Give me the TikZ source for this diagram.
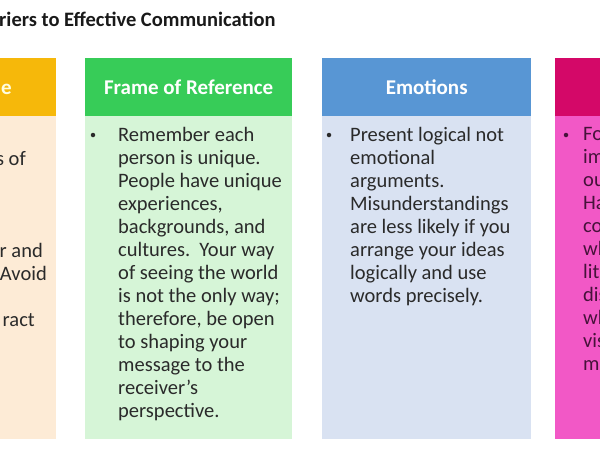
\documentclass[tikz,border=0pt]{standalone}
\usepackage{fontspec}
\setmainfont{Carlito}
\usetikzlibrary{positioning}

\definecolor{goldhead}{RGB}{246,184,10}
\definecolor{goldbody}{RGB}{253,235,214}
\definecolor{greenhead}{RGB}{55,204,88}
\definecolor{greenbody}{RGB}{214,245,215}
\definecolor{bluehead}{RGB}{88,150,212}
\definecolor{bluebody}{RGB}{217,226,242}
\definecolor{pinkhead}{RGB}{212,8,104}
\definecolor{pinkbody}{RGB}{242,88,198}
\definecolor{inkgray}{RGB}{42,42,42}
\definecolor{pinkink}{RGB}{70,18,58}

\begin{document}
\begin{tikzpicture}[x=1pt,y=-1pt,
every node/.style={inner sep=0pt},
headbox/.style={rectangle,anchor=north west,minimum height=58pt},
bodybox/.style={rectangle,anchor=north west,minimum height=323pt},
headlabel/.style={text=white,font=\fontsize{21}{24}\selectfont\bfseries},
bodylines/.style={text=inkgray,font=\fontsize{20.5}{23}\selectfont,align=left,anchor=north west},
bulletdot/.style={circle,fill=inkgray,minimum size=4.5pt}]
\useasboundingbox (0,0) rectangle (600,450);

%title, cut at the left edge
\node[anchor=base west,text=black!90,font=\fontsize{20.5}{24}\selectfont\bfseries](title) at (-1,26) {riers to Effective Communication};

%column boxes
\node[headbox,fill=goldhead,minimum width=206pt](h1) at (-150,58) {};
\node[bodybox,fill=goldbody,minimum width=206pt](b1) at (-150,116) {};
\node[headbox,fill=greenhead,minimum width=207pt](h2) at (85,58) {};
\node[bodybox,fill=greenbody,minimum width=207pt](b2) at (85,116) {};
\node[headbox,fill=bluehead,minimum width=209pt](h3) at (322,58) {};
\node[bodybox,fill=bluebody,minimum width=209pt](b3) at (322,116) {};
\node[headbox,fill=pinkhead,minimum width=200pt](h4) at (555,58) {};
\node[bodybox,fill=pinkbody,minimum width=200pt](b4) at (555,116) {};

%header labels
\node[headlabel,anchor=base west,text=yellow!12](l1) at (1,94) {e};
\node[headlabel](l2) at (h2.center) {Frame of Reference};
\node[headlabel](l3) at (h3.center) {Emotions};

%first column, only the line ends show
\foreach \txt/\ln/\xe in {s of/2/26,r and/6/43,Avoid/7/47,ract/9/35}
  \node[text=inkgray,font=\fontsize{20.5}{23}\selectfont,anchor=base east](f\ln) at (\xe,{142+23*(\ln-1)}) {\txt};

%second column
\node[bulletdot](d2) at (93,135) {};
\node[bodylines](t2) at (118,127) {Remember each\\person is unique.\\People have unique\\experiences,\\backgrounds, and\\cultures.\ \ Your way\\of seeing the world\\is not the only way;\\therefore, be open\\to shaping your\\message to the\\receiver’s\\perspective.};

%third column
\node[bulletdot](d3) at (329,135) {};
\node[bodylines](t3) at (350,127) {Present logical not\\emotional\\arguments.\\Misunderstandings\\are less likely if you\\arrange your ideas\\logically and use\\words precisely.};

%fourth column, cut at the right edge
\node[bulletdot,fill=pinkink](d4) at (566,135) {};
\node[bodylines,text=pinkink](t4) at (583,127) {Fo\\im\\ou\\Ha\\co\\wh\\lit\\dis\\wh\\vis\\m};
\end{tikzpicture}
\end{document}
